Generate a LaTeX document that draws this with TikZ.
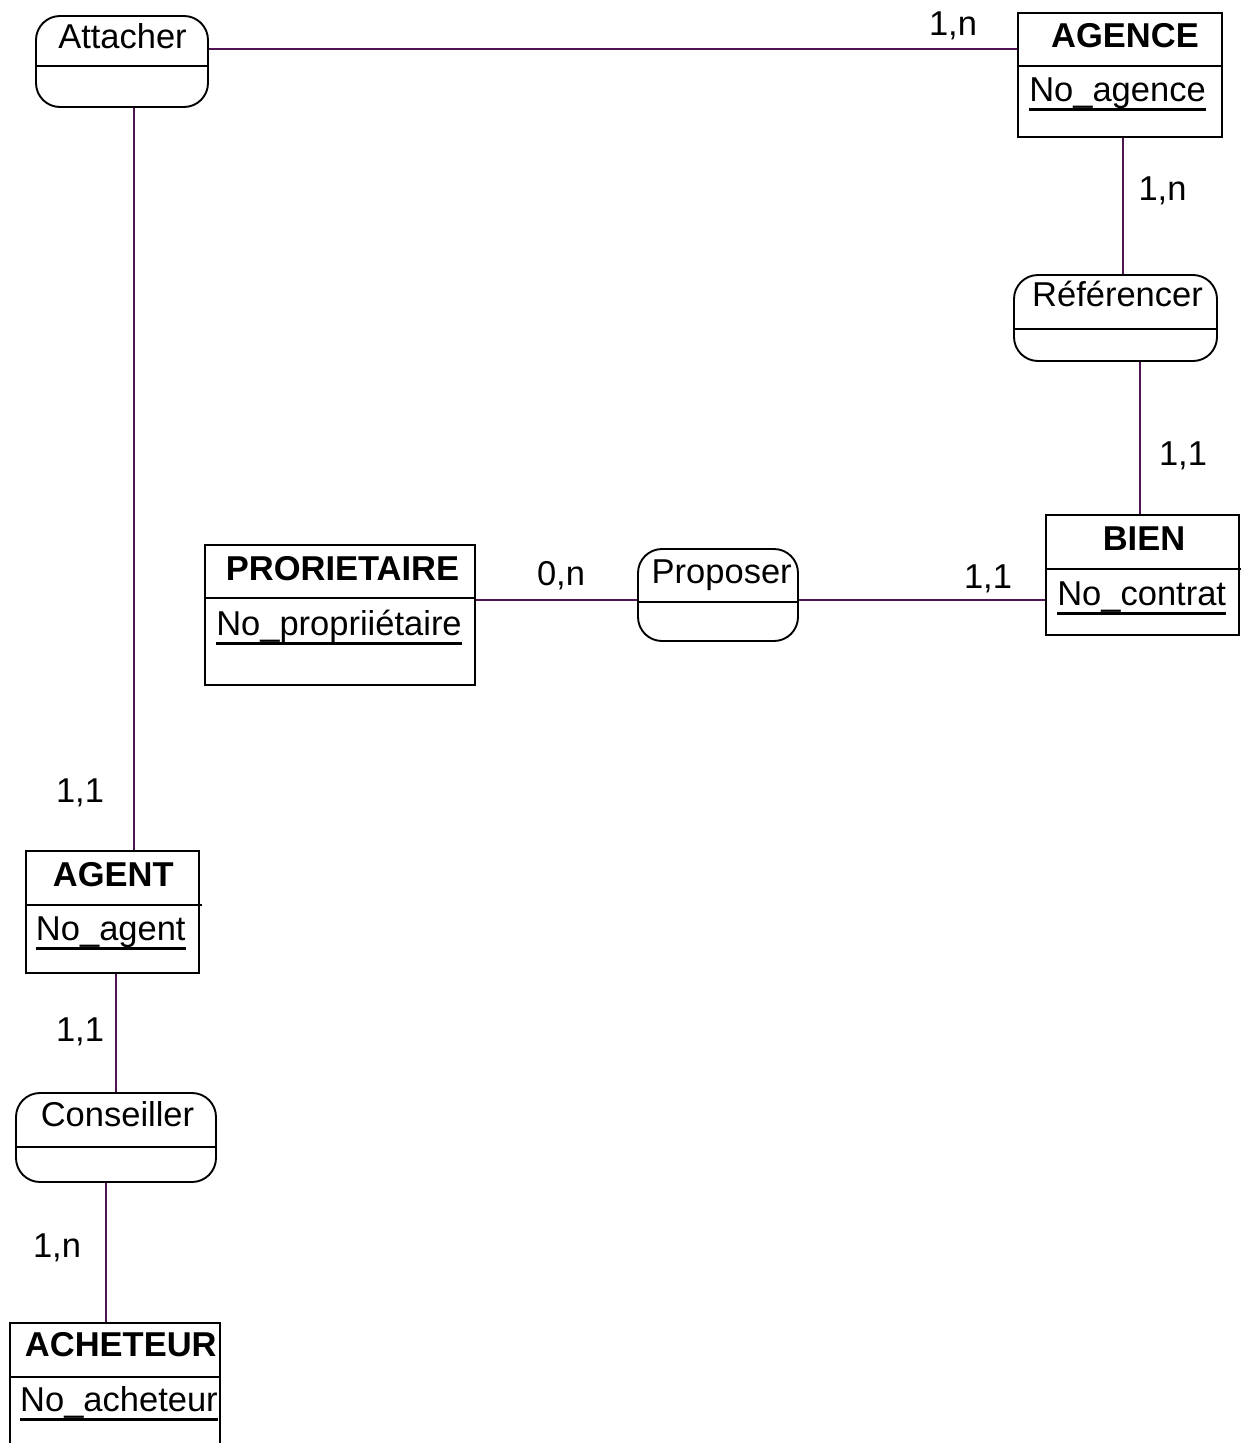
\documentclass[tikz,border=0pt]{standalone}
\usepackage{fontspec}
\setmainfont{Liberation Sans}
\definecolor{linkcol}{RGB}{80,20,80}
\newsavebox\ulbox
\newcommand\ulin[1]{\sbox\ulbox{#1}\rlap{\rule[-9.5pt]{\wd\ulbox}{2.8pt}}\usebox\ulbox}
\tikzset{
  ent/.style={draw, line width=1.9pt, inner sep=0pt},
  rel/.style={draw, line width=1.9pt, inner sep=0pt, rounded corners=24pt},
  divider/.style={line width=1.9pt},
  title/.style={anchor=base, inner sep=0pt, font=\fontsize{34.5}{40}\selectfont\bfseries},
  attr/.style={anchor=base, inner sep=0pt, font=\fontsize{34.5}{40}\selectfont},
  card/.style={anchor=base, inner sep=0pt, font=\fontsize{34.5}{40}\selectfont},
  link/.style={draw=linkcol, line width=1.8pt}
}
\begin{document}
\begin{tikzpicture}[x=1pt,y=-1pt]
\clip (0,0) rectangle (1241,1443);
\fill[white] (0,0) rectangle (1241,1443);

% entities
\node[ent, minimum width=204pt, minimum height=124pt] (agence) at (1120,75) {};
\draw[divider] ([yshift=-54pt]agence.north west) -- ([yshift=-54pt]agence.north east);
\node[title] (agenceT) at (1125,47) {AGENCE};
\node[attr] (agenceA) at (1117.5,101.7) {\ulin{No\_agence}};

\node[ent, minimum width=193pt, minimum height=120pt] (bien) at (1142.5,575) {};
\draw[divider] ([yshift=-55pt]bien.north west) -- ([yshift=-55pt,xshift=2pt]bien.north east);
\node[title] (bienT) at (1144,550) {BIEN};
\node[attr] (bienA) at (1141.7,605) {\ulin{No\_contrat}};

\node[ent, minimum width=270pt, minimum height=140pt] (prop) at (340,615) {};
\draw[divider] ([yshift=-54pt]prop.north west) -- ([yshift=-54pt]prop.north east);
\node[title] (propT) at (342.5,580) {PRORIETAIRE};
\node[attr] (propA) at (339,635) {\ulin{No\_propriiétaire}};

\node[ent, minimum width=173pt, minimum height=122pt] (agent) at (112.5,912) {};
\draw[divider] ([yshift=-55pt]agent.north west) -- ([yshift=-55pt,xshift=2pt]agent.north east);
\node[title] (agentT) at (113.3,886.7) {AGENT};
\node[attr] (agentA) at (110.8,940) {\ulin{No\_agent}};

\node[ent, minimum width=210pt, minimum height=137pt] (ach) at (115,1391.5) {};
\draw[divider] ([yshift=-55pt]ach.north west) -- ([yshift=-55pt]ach.north east);
\node[title] (achT) at (120.8,1356.7) {ACHETEUR};
\node[attr] (achA) at (119,1411.7) {\ulin{No\_acheteur}};

% relations
\node[rel, minimum width=172pt, minimum height=91pt] (att) at (122,61.5) {};
\draw[divider] ([yshift=-51pt]att.north west) -- ([yshift=-51pt]att.north east);
\node[attr] (attT) at (122.5,48.3) {Attacher};

\node[rel, minimum width=203pt, minimum height=86pt] (ref) at (1115.5,318) {};
\draw[divider] ([yshift=-55pt]ref.north west) -- ([yshift=-55pt]ref.north east);
\node[attr] (refT) at (1117.5,306.7) {Référencer};

\node[rel, minimum width=160pt, minimum height=92pt] (propo) at (718,595) {};
\draw[divider] ([yshift=-54pt]propo.north west) -- ([yshift=-54pt]propo.north east);
\node[attr] (propoT) at (721.7,583) {Proposer};

\node[rel, minimum width=200pt, minimum height=89pt] (cons) at (116,1137.5) {};
\draw[divider] ([yshift=-55pt]cons.north west) -- ([yshift=-55pt]cons.north east);
\node[attr] (consT) at (117.5,1126.7) {Conseiller};

% connector guides
\coordinate (h1) at (0,49);
\coordinate (h2) at (0,600);
\coordinate (v1) at (1123,0);
\coordinate (v2) at (1140,0);
\coordinate (v3) at (134,0);
\coordinate (v4) at (116,0);
\coordinate (v5) at (106,0);

% connectors
\draw[link] (att.east |- h1) -- (agence.west |- h1);
\draw[link] (agence.south -| v1) -- (ref.north -| v1);
\draw[link] (ref.south -| v2) -- (bien.north -| v2);
\draw[link] (prop.east |- h2) -- (propo.west |- h2);
\draw[link] (propo.east |- h2) -- (bien.west |- h2);
\draw[link] (att.south -| v3) -- (agent.north -| v3);
\draw[link] (agent.south -| v4) -- (cons.north -| v4);
\draw[link] (cons.south -| v5) -- (ach.north -| v5);

% cardinalities
\node[card] (c1) at (953,35) {1,n};
\node[card] (c2) at (1162.5,200) {1,n};
\node[card] (c3) at (1183,465) {1,1};
\node[card] (c4) at (561,585) {0,n};
\node[card] (c5) at (988,588) {1,1};
\node[card] (c6) at (80,802) {1,1};
\node[card] (c7) at (80,1041) {1,1};
\node[card] (c8) at (57,1257) {1,n};
\end{tikzpicture}
\end{document}
